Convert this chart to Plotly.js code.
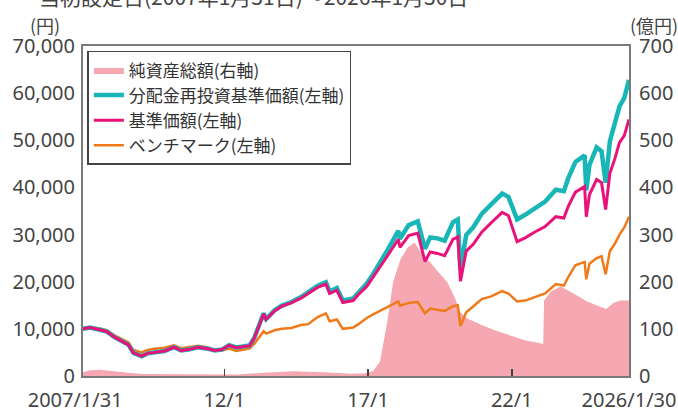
<!DOCTYPE html>
<html>
<head>
<meta charset="utf-8">
<script src="https://cdn.plot.ly/plotly-3.0.1.min.js"></script>
<style>html,body{margin:0;padding:0;background:#fff}#chart{width:678px;height:412px}</style>
</head>
<body>
<div id="chart"></div>
<script>
// ---- data ----
const navDates = ['2007-01-31','2007-05-01','2007-09-01','2007-12-01','2008-03-01','2008-06-01','2008-09-01','2008-11-01','2009-02-15','2009-05-01',
'2009-08-01','2009-12-01','2010-04-01','2010-07-01','2010-10-01','2011-02-01','2011-06-01','2011-09-01','2011-12-01','2012-03-01',
'2012-06-01','2012-09-01','2012-11-15','2013-01-15','2013-05-15','2013-06-15','2013-10-01','2014-01-01','2014-05-01','2014-09-01',
'2014-12-01','2015-04-01','2015-07-15','2015-09-01','2015-12-01','2016-02-15','2016-06-25','2016-09-01','2016-12-15','2017-03-01',
'2017-06-01','2017-09-01','2018-01-20','2018-02-10','2018-06-01','2018-09-25','2018-12-25','2019-03-01','2019-06-01','2019-09-01',
'2019-12-15','2020-02-15','2020-03-20','2020-06-01','2020-09-01','2020-12-15','2021-04-15','2021-09-01','2021-11-20','2022-03-10',
'2022-06-20','2022-10-15','2023-03-01','2023-07-15','2023-10-25','2023-12-20','2024-03-20','2024-07-15','2024-08-05','2024-09-15',
'2024-12-15','2025-02-15','2025-04-08','2025-06-01','2025-08-01','2025-10-01','2025-12-01','2026-01-30'];

const navValues = [10000,10300,9800,9400,8300,7500,6600,4900,4200,4800,
5000,5300,6100,5400,5600,6100,5800,5400,5600,6500,
6000,6200,6400,8000,13200,12000,13800,14800,15500,16500,
17500,18800,19500,17500,18200,15600,16000,17300,19000,20800,
23000,25400,29000,27300,29800,30300,24300,26300,26000,25500,
29000,29500,20100,26500,28000,30500,32500,34700,34000,28500,
29300,30500,31700,33800,33500,36000,39000,40200,33800,38500,
41700,41000,35300,43000,46000,49500,51000,54400];

const reinvValues = [10000,10300,9800,9400,8300,7500,6600,4900,4200,4800,
5000,5300,6100,5400,5600,6100,5800,5400,5600,6550,
6050,6250,6450,8050,13300,12100,13950,14950,15700,16750,
17800,19150,19900,17900,18650,16000,16450,17800,19600,21500,
23900,26600,30800,29100,32000,32800,27000,29400,29200,28700,
32600,33200,22700,29900,31600,34400,36400,38700,38000,33200,
34200,35500,37000,39500,39200,42000,45400,46800,39400,44800,
48500,47700,41000,49800,53200,57200,59000,62800];

const benchValues = [10000,10400,10100,9700,8700,7900,7100,5500,5000,5500,
5800,6000,6500,5900,6100,6400,6100,5500,5400,5800,
5300,5600,5800,6800,9500,9000,9700,10000,10200,10800,
11000,12500,13300,11600,12000,10000,10300,11000,12300,13000,
13800,14500,15800,14900,15500,15700,13300,14300,14000,13800,
14800,15000,10600,13500,14800,16300,16900,18000,17500,15800,
16000,16700,17500,19500,19200,21000,23500,24200,20500,23800,
25000,25400,21600,26500,28000,30000,31500,33800];

const assetDates = ['2007-01-31','2007-05-01','2007-09-01','2008-02-01','2008-09-01','2009-03-01','2010-01-01','2011-01-01','2012-06-01','2013-06-01',
'2014-06-01','2015-06-01','2016-06-01','2016-12-01','2017-03-01','2017-06-01','2017-09-01','2017-11-15','2018-02-15','2018-05-15',
'2018-08-15','2018-12-05','2019-03-05','2019-06-15','2019-10-05','2019-12-31','2020-03-20','2020-06-15','2020-12-15','2021-06-15',
'2021-12-15','2022-06-15','2022-12-15','2023-02-05','2023-02-15','2023-05-15','2023-09-15','2023-12-15','2024-04-15','2024-08-15',
'2024-12-15','2025-04-15','2025-07-15','2025-10-15','2026-01-30'];
const assetValues = [8,12,13,10,7,4,4,3,3,7,
10,8,5,6,10,30,114,199,247,272,
283,254,241,220,199,169,135,122,108,96,
86,76,70,68,160,180,190,182,170,158,
150,142,155,160,160];

const seriesNames = ['純資産総額(右軸)','分配金再投資基準価額(左軸)','基準価額(左軸)','ベンチマーク(左軸)'];
const xTickVals = ['2007-01-31','2012-01-01','2017-01-01','2022-01-01','2026-01-30'];
const xTickText = ['2007/1/31\u00a0\u00a0\u00a0','12/1','17/1','22/1','2026/1/30'];
const leftTicks = [0,10000,20000,30000,40000,50000,60000,70000];
const rightTicks = [0,100,200,300,400,500,600,700];

// ---- traces ----
const FONT = '"Noto Sans", "Noto Sans CJK JP", sans-serif';
const traces = [
  {x: assetDates, y: assetValues, name: seriesNames[0], type: 'scatter', mode: 'lines',
   fill: 'tozeroy', fillcolor: '#F5A8B2', line: {color: '#F5A8B2', width: 0},
   yaxis: 'y', legendrank: 1},
  {x: navDates, y: benchValues, name: seriesNames[3], type: 'scatter', mode: 'lines',
   line: {color: '#F07A1A', width: 2.5}, yaxis: 'y2', legendrank: 4},
  {x: navDates, y: reinvValues, name: seriesNames[1], type: 'scatter', mode: 'lines',
   line: {color: '#19B6B8', width: 4.5}, yaxis: 'y2', legendrank: 2},
  {x: navDates, y: navValues, name: seriesNames[2], type: 'scatter', mode: 'lines',
   line: {color: '#E8127A', width: 3}, yaxis: 'y2', legendrank: 3}
];

const layout = {
  width: 678, height: 412,
  margin: {l: 83, r: 49, t: 46, b: 36, pad: 0},
  paper_bgcolor: '#fff', plot_bgcolor: '#fff',
  font: {family: FONT, size: 19, color: '#444'},
  showlegend: true,
  legend: {x: 0.008, y: 0.985, xanchor: 'left', yanchor: 'top',
    bgcolor: '#fff', bordercolor: '#444', borderwidth: 1.5,
    font: {family: '"Noto Sans CJK JP", sans-serif', size: 17, color: '#333'},
    itemwidth: 30, traceorder: 'normal'},
  xaxis: {type: 'date', range: ['2007-01-31','2026-01-30'],
    tickmode: 'array', tickvals: xTickVals, ticktext: xTickText,
    ticks: 'inside', ticklen: 7, tickwidth: 1.5, tickcolor: '#444',
    showgrid: false, zeroline: false,
    showline: true, mirror: true, linecolor: '#7a7a7a', linewidth: 2,
    tickfont: {size: 20, color: '#444'}, ticklabelstandoff: 5},
  yaxis: {range: [0, 700], side: 'right', tickmode: 'array', tickvals: rightTicks,
    ticks: '', showgrid: false, zeroline: false,
    showline: true, mirror: true, linecolor: '#7a7a7a', linewidth: 2,
    tickfont: {size: 20, color: '#444'}, ticklabelstandoff: 4},
  yaxis2: {range: [0, 70000], overlaying: 'y', side: 'left', tickmode: 'array', tickvals: leftTicks,
    tickformat: ',d', ticks: '', showgrid: false, zeroline: false, showline: false,
    tickfont: {size: 20, color: '#444'}, ticklabelstandoff: 7},
  annotations: [
    {xref: 'paper', yref: 'paper', x: -0.0844, y: 1.152, xanchor: 'left', yanchor: 'middle',
     text: '当初設定日(2007年1月31日)～2026年1月30日', showarrow: false,
     font: {family: '"Noto Sans CJK JP", sans-serif', size: 21, color: '#444'}},
    {xref: 'paper', yref: 'paper', x: -0.0697, y: 1.063, xanchor: 'center', yanchor: 'middle',
     text: '(円)', showarrow: false,
     font: {family: '"Noto Sans CJK JP", sans-serif', size: 18, color: '#444'}},
    {xref: 'paper', yref: 'paper', x: 1.0459, y: 1.063, xanchor: 'center', yanchor: 'middle',
     text: '(億円)', showarrow: false,
     font: {family: '"Noto Sans CJK JP", sans-serif', size: 18, color: '#444'}}
  ]
};

Plotly.newPlot('chart', traces, layout, {staticPlot: true});
</script>
</body>
</html>
